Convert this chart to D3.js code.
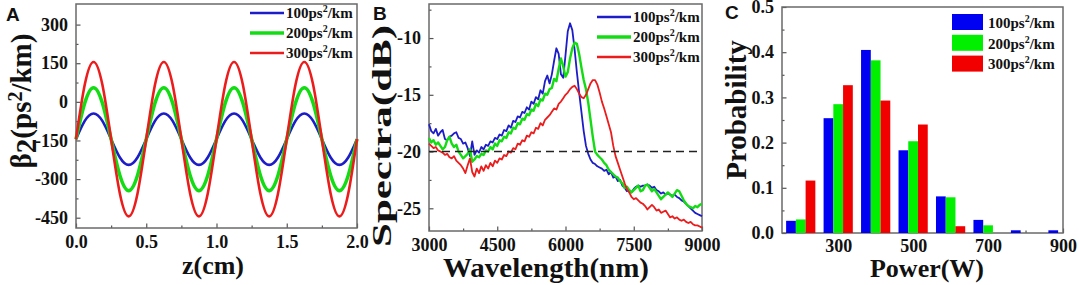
<!DOCTYPE html>
<html>
<head>
<meta charset="utf-8">
<script src="https://cdn.jsdelivr.net/npm/d3@7"></script>
<style>
  body { margin: 0; background: #fff; }
  text { font-family: "Liberation Serif", "Times New Roman", serif; font-weight: bold; fill: #111; }
  .panel-tag { font-family: "Liberation Sans", Arial, sans-serif; }
</style>
</head>
<body>
<svg id="fig" width="1079" height="285"></svg>
<script>
// ---- data ----
const seriesLabels = ["100", "200", "300"];
const lineColors = ["#1c1cc8", "#14dc14", "#ec1c1c"];
const barColors = ["#0000f2", "#00f000", "#f20000"];

// A: beta2 along z
const zA = [0, 0.0625, 0.125, 0.1875, 0.25, 0.3125, 0.375, 0.4375,
  0.5, 0.5625, 0.625, 0.6875, 0.75, 0.8125, 0.875, 0.9375,
  1.0, 1.0625, 1.125, 1.1875, 1.25, 1.3125, 1.375, 1.4375,
  1.5, 1.5625, 1.625, 1.6875, 1.75, 1.8125, 1.875, 1.9375, 2.0];
const beta100 = [-145, -74, -45, -74, -145, -216, -245, -216,
  -145, -74, -45, -74, -145, -216, -245, -216,
  -145, -74, -45, -74, -145, -216, -245, -216,
  -145, -74, -45, -74, -145, -216, -245, -216, -145];
const beta200 = [-145, -4, 55, -4, -145, -286, -345, -286,
  -145, -4, 55, -4, -145, -286, -345, -286,
  -145, -4, 55, -4, -145, -286, -345, -286,
  -145, -4, 55, -4, -145, -286, -345, -286, -145];
const beta300 = [-145, 67, 155, 67, -145, -357, -445, -357,
  -145, 67, 155, 67, -145, -357, -445, -357,
  -145, 67, 155, 67, -145, -357, -445, -357,
  -145, 67, 155, 67, -145, -357, -445, -357, -145];
const aYTicks = [-450, -300, -150, 0, 150, 300];
const aXTicks = [0, 0.5, 1.0, 1.5, 2.0];

// B: spectra, wavelength in nm
const wavelength = [3000, 3050, 3100, 3150, 3200, 3250, 3300, 3350, 3400, 3450,
  3500, 3550, 3600, 3650, 3700, 3750, 3800, 3850, 3900, 3950,
  4000, 4050, 4100, 4150, 4200, 4250, 4300, 4350, 4400, 4450,
  4500, 4550, 4600, 4650, 4700, 4750, 4800, 4850, 4900, 4950,
  5000, 5050, 5100, 5150, 5200, 5250, 5300, 5350, 5400, 5450,
  5500, 5550, 5600, 5650, 5700, 5750, 5800, 5850, 5900, 5950,
  6000, 6050, 6100, 6150, 6200, 6250, 6300, 6350, 6400, 6450,
  6500, 6550, 6600, 6650, 6700, 6750, 6800, 6850, 6900, 6950,
  7000, 7050, 7100, 7150, 7200, 7250, 7300, 7350, 7400, 7450,
  7500, 7550, 7600, 7650, 7700, 7750, 7800, 7850, 7900, 7950,
  8000, 8050, 8100, 8150, 8200, 8250, 8300, 8350, 8400, 8450,
  8500, 8550, 8600, 8650, 8700, 8750, 8800, 8850, 8900, 8950, 9000];
const spec100 = [-17.6, -18.2, -18.4, -18.0, -18.6, -18.3, -18.1, -18.9, -19.0, -18.7,
  -18.6, -18.4, -18.3, -18.8, -18.9, -19.3, -19.2, -19.7, -20.4, -19.1,
  -20.3, -19.9, -20.1, -19.6, -19.8, -19.4, -19.5, -19.1, -19.2, -18.8,
  -18.9, -18.5, -18.6, -18.1, -18.2, -17.7, -17.9, -17.3, -17.4, -16.9,
  -17.0, -16.5, -16.6, -16.1, -16.3, -15.6, -15.8, -15.2, -15.4, -14.6,
  -14.9, -13.8, -13.3, -14.0, -13.2, -12.0, -10.9, -11.4, -13.2, -13.5,
  -11.5, -9.4, -8.7, -9.3, -11.0, -13.0, -14.8, -16.5, -18.2, -19.5,
  -20.2, -20.7, -21.0, -21.1, -21.3, -21.4, -21.5, -21.7, -21.6, -22.0,
  -21.8, -22.3, -22.2, -22.6, -22.5, -23.0, -23.2, -23.5, -23.4, -23.6,
  -23.3, -23.1, -23.0, -23.1, -23.0, -23.0, -22.9, -23.0, -23.2, -23.1,
  -23.4, -23.5, -23.7, -23.6, -23.8, -23.7, -23.8, -23.9, -23.8, -24.0,
  -24.1, -24.3, -24.4, -24.6, -24.8, -25.0, -25.2, -25.4, -25.5, -25.6, -25.7];
const spec200 = [-18.8, -19.2, -19.0, -19.4, -19.2, -19.5, -19.8, -19.6, -19.0, -18.7,
  -19.3, -19.6, -19.4, -20.0, -20.3, -20.6, -20.4, -20.2, -19.8, -20.9,
  -20.7, -20.4, -20.5, -20.2, -20.3, -19.9, -20.0, -19.6, -19.8, -19.3,
  -19.5, -19.0, -19.1, -18.7, -18.8, -18.3, -18.4, -17.9, -18.0, -17.5,
  -17.6, -17.1, -17.2, -16.7, -16.8, -16.3, -16.4, -15.8, -16.0, -15.4,
  -15.5, -14.9, -15.0, -14.5, -14.4, -13.6, -13.8, -12.7, -11.8, -12.5,
  -13.4, -13.0, -11.8, -10.9, -10.4, -10.5, -11.4, -12.6, -13.7, -14.5,
  -15.7, -17.2, -18.7, -20.0, -20.3, -20.5, -20.7, -21.0, -21.2, -21.6,
  -21.8, -22.0, -22.2, -22.3, -22.6, -22.8, -23.2, -23.1, -23.4, -23.6,
  -23.4, -23.2, -23.0, -23.5, -23.4, -23.0, -22.9, -23.2, -23.5, -23.3,
  -23.6, -23.9, -24.2, -24.0, -23.8, -23.6, -23.8, -24.0, -23.7, -23.4,
  -23.5, -23.9, -24.3, -24.6, -24.8, -24.9, -25.0, -24.8, -24.9, -24.7, -24.6];
const spec300 = [-19.3, -19.5, -19.7, -19.6, -19.9, -20.0, -20.1, -20.3, -20.2, -20.5,
  -20.6, -20.4, -20.8, -21.0, -21.2, -21.5, -21.9, -21.2, -20.6, -21.8,
  -22.2, -21.5, -21.9, -21.3, -21.7, -21.2, -21.5, -21.0, -21.3, -20.8,
  -21.0, -20.6, -20.7, -20.3, -20.4, -20.0, -20.1, -19.7, -19.8, -19.3,
  -19.4, -19.0, -19.1, -18.6, -18.7, -18.3, -18.4, -17.9, -18.0, -17.5,
  -17.7, -17.2, -17.0, -16.8, -16.5, -16.2, -16.3, -15.8, -15.6, -15.3,
  -15.0, -14.8, -14.5, -14.3, -14.2, -14.5, -14.9, -15.2, -15.3, -15.0,
  -14.5, -14.0, -13.7, -13.7, -14.1, -14.8, -15.6, -16.2, -16.9, -17.6,
  -18.3, -19.5, -20.4, -21.0, -21.6, -22.2, -22.8, -23.3, -23.6, -24.0,
  -24.2, -24.1, -24.3, -24.5, -24.6, -24.8, -25.1, -24.9, -24.7, -24.9,
  -25.2, -25.1, -25.4, -25.3, -25.2, -25.5, -25.8, -25.7, -25.9, -25.8,
  -26.0, -26.1, -26.0, -26.2, -26.3, -26.2, -26.4, -26.5, -26.5, -26.6, -26.7];
const bYTicks = [-25, -20, -15, -10];
const bXTicks = [3000, 4500, 6000, 7500, 9000];
const thresholdDb = -20;

// C: peak power histogram
const powerBins = [200, 300, 400, 500, 600, 700, 800, 900];
const prob100 = [0.027, 0.254, 0.405, 0.183, 0.081, 0.029, 0.006, 0.006];
const prob200 = [0.030, 0.285, 0.382, 0.203, 0.079, 0.017, 0, 0];
const prob300 = [0.116, 0.327, 0.293, 0.240, 0.015, 0, 0, 0];
const cYTicks = [0, 0.1, 0.2, 0.3, 0.4, 0.5];
const cXTicks = [300, 500, 700, 900];

// ---- drawing ----
const svg = d3.select("#fig");

function axes(x, y, o) {
  const g = svg.append("g").attr("class", "axes");
  const [x0, x1] = x.range();
  const [y0, y1] = y.range();
  // minor ticks
  g.append("g").attr("transform", `translate(0,${y0})`)
    .call(d3.axisBottom(x).tickValues(o.xMinor).tickSize(-2.5).tickFormat(""));
  g.append("g").attr("transform", `translate(${x0},0)`)
    .call(d3.axisLeft(y).tickValues(o.yMinor).tickSize(-2.5).tickFormat(""));
  // major ticks
  g.append("g").attr("transform", `translate(0,${y0})`)
    .call(d3.axisBottom(x).tickValues(o.xTicks).tickSizeInner(-4.5).tickSizeOuter(0)
      .tickPadding(o.xPad).tickFormat(o.xFmt))
    .selectAll("text").attr("font-size", 18);
  g.append("g").attr("transform", `translate(${x0},0)`)
    .call(d3.axisLeft(y).tickValues(o.yTicks).tickSizeInner(-4.5).tickSizeOuter(0)
      .tickPadding(o.yPad).tickFormat(o.yFmt))
    .selectAll("text").attr("font-size", 18);
  g.selectAll(".domain").remove();
  g.selectAll(".tick line").attr("stroke", "#555").attr("stroke-width", 1.2);
  g.selectAll(".tick text").attr("fill", "#111");
  g.append("rect")
    .attr("x", x0).attr("y", y1).attr("width", x1 - x0).attr("height", y0 - y1)
    .attr("fill", "none").attr("stroke", "#6a6a6a").attr("stroke-width", 1.5);
}

function legendLines(x, y, gap, colors) {
  const g = svg.append("g");
  seriesLabels.forEach((s, i) => {
    g.append("line").attr("x1", x).attr("x2", x + 34)
      .attr("y1", y + i * gap).attr("y2", y + i * gap)
      .attr("stroke", colors[i]).attr("stroke-width", i === 1 ? 3.5 : 2.5);
    legendText(g, x + 36, y + i * gap + 5, s);
  });
}

function legendText(g, x, y, s) {
  const t = g.append("text").attr("x", x).attr("y", y).attr("font-size", 15);
  t.append("tspan").text(s + "ps");
  t.append("tspan").attr("font-size", 10).attr("dy", -6).text("2");
  t.append("tspan").attr("dy", 6).text("/km");
}

function title(x, y, txt, size, rotate) {
  return svg.append("text")
    .attr("transform", `translate(${x},${y})` + (rotate ? " rotate(-90)" : ""))
    .attr("text-anchor", "middle").attr("font-size", size).text(txt);
}

function tag(x, y, s) {
  svg.append("text").attr("class", "panel-tag").attr("x", x).attr("y", y)
    .attr("font-size", 19).text(s);
}

// Panel A
const xA = d3.scaleLinear().domain([0, 2]).range([76, 357]);
const yA = d3.scaleLinear().domain([-490, 380]).range([228, 4]);
axes(xA, yA, {
  xTicks: aXTicks, xMinor: [0.25, 0.75, 1.25, 1.75], xFmt: d3.format(".1f"), xPad: 7,
  yTicks: aYTicks, yMinor: [-375, -225, -75, 75, 225], yFmt: d => String(d), yPad: 8
});
const lineA = d3.line().x(d => xA(d[0])).y(d => yA(d[1])).curve(d3.curveNatural);
[beta100, beta200, beta300].forEach((vals, i) => {
  svg.append("path").datum(zA.map((z, k) => [z, vals[k]]))
    .attr("d", lineA).attr("fill", "none")
    .attr("stroke", lineColors[i]).attr("stroke-width", i === 1 ? 3.5 : 2.6);
});
legendLines(250, 13, 20, lineColors);
title(213, 274, "z(cm)", 26, false);
{
  const t = svg.append("text").attr("transform", "translate(31,101) rotate(-90)")
    .attr("text-anchor", "middle").attr("font-size", 29);
  t.append("tspan").text("β");
  t.append("tspan").attr("dy", 5).text("2");
  t.append("tspan").attr("dy", -5).text("(ps");
  t.append("tspan").attr("dy", -9).attr("font-size", 20).text("2");
  t.append("tspan").attr("dy", 9).text("/km)");
}
tag(6, 21, "A");

// Panel B
const xB = d3.scaleLinear().domain([3000, 9000]).range([429, 702]);
const yB = d3.scaleLinear().domain([-27, -7]).range([231, 4]);
axes(xB, yB, {
  xTicks: bXTicks, xMinor: [3750, 5250, 6750, 8250], xFmt: d => String(d), xPad: 7,
  yTicks: bYTicks, yMinor: [-22.5, -17.5, -12.5, -7.5], yFmt: d => String(d), yPad: 8
});
const lineB = d3.line().x(d => xB(d[0])).y(d => yB(d[1]));
[spec100, spec200, spec300].forEach((vals, i) => {
  svg.append("path").datum(wavelength.map((w, k) => [w, vals[k]]))
    .attr("d", lineB).attr("fill", "none")
    .attr("stroke", lineColors[i]).attr("stroke-width", i === 1 ? 2.4 : 1.8)
    .attr("stroke-linejoin", "round");
});
svg.append("line")
  .attr("x1", xB.range()[0]).attr("x2", xB.range()[1])
  .attr("y1", yB(thresholdDb)).attr("y2", yB(thresholdDb))
  .attr("stroke", "#222").attr("stroke-width", 1.5).attr("stroke-dasharray", "8,5");
legendLines(597, 17, 20, lineColors);
title(546, 277, "Wavelength(nm)", 27, false)
  .attr("textLength", 206).attr("lengthAdjust", "spacingAndGlyphs");
title(391, 136, "Spectra(dB)", 27, true)
  .attr("textLength", 222).attr("lengthAdjust", "spacingAndGlyphs");
tag(373, 20, "B");

// Panel C
const xC = d3.scaleLinear().domain([150, 900]).range([782, 1063]);
const yC = d3.scaleLinear().domain([0, 0.5]).range([233, 7]);
axes(xC, yC, {
  xTicks: cXTicks, xMinor: [400, 600, 800], xFmt: d => String(d), xPad: 6,
  yTicks: cYTicks, yMinor: [0.05, 0.15, 0.25, 0.35, 0.45], yFmt: d3.format(".1f"), yPad: 8
});
const barW = xC(176) - xC(150);
const sub = d3.scaleBand().domain(seriesLabels).range([-1.5 * barW, 1.5 * barW]);
[prob100, prob200, prob300].forEach((vals, i) => {
  svg.append("g").selectAll("rect").data(powerBins.map((p, k) => [p, vals[k]]))
    .join("rect")
    .attr("x", d => xC(d[0]) + sub(seriesLabels[i]))
    .attr("width", sub.bandwidth())
    .attr("y", d => yC(d[1]))
    .attr("height", d => yC(0) - yC(d[1]))
    .attr("fill", barColors[i]);
});
{
  const g = svg.append("g");
  seriesLabels.forEach((s, i) => {
    g.append("rect").attr("x", 952).attr("y", 14 + i * 20.8).attr("width", 31).attr("height", 16)
      .attr("fill", barColors[i]);
    legendText(g, 988, 28 + i * 20.5, s);
  });
}
title(927, 277, "Power(W)", 26, false);
title(746, 110, "Probability", 29, true);
tag(725, 19, "C");
</script>
</body>
</html>
